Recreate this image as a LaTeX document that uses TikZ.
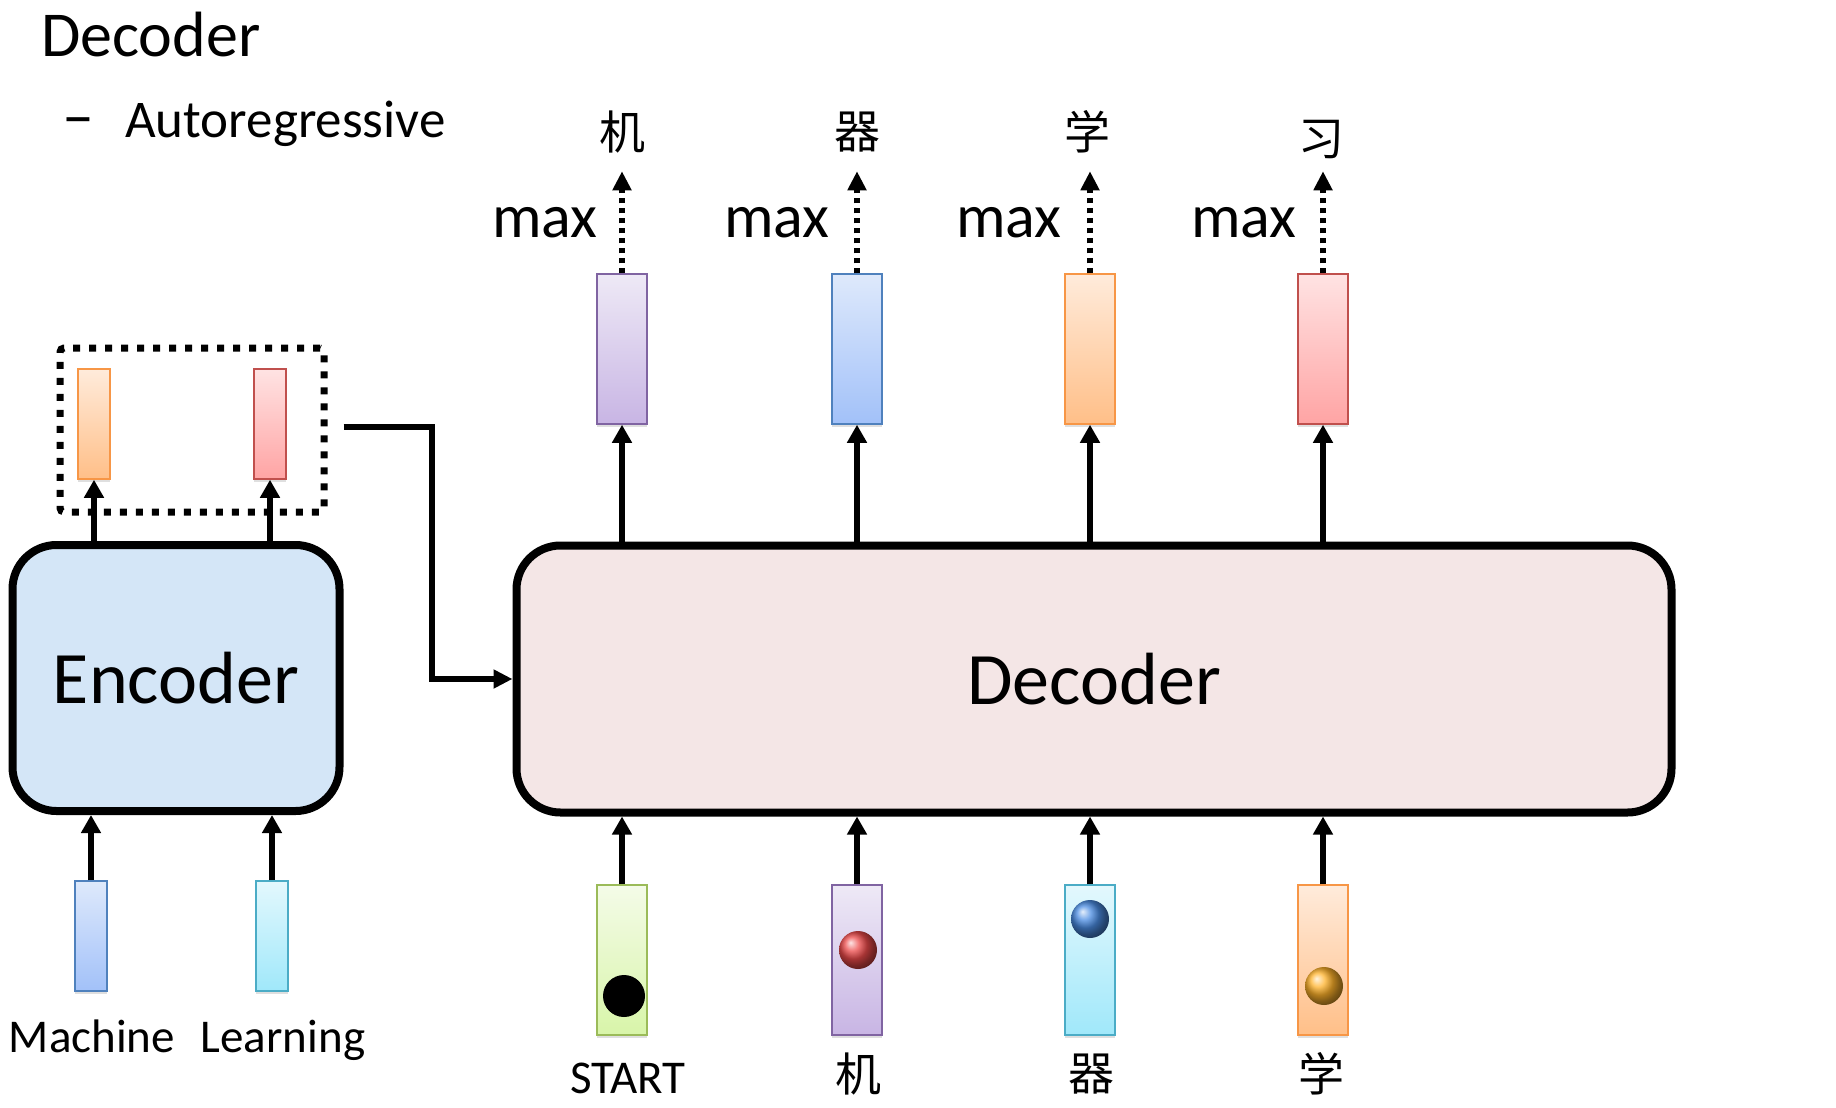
\documentclass[tikz,border=0pt]{standalone}
\usepackage{fontspec}
\setmainfont{Carlito}
\newfontfamily\cjkfont{Noto Sans CJK SC}
\usetikzlibrary{arrows.meta,positioning,calc,shadows}
\definecolor{encfill}{HTML}{D4E6F7}
\definecolor{decfill}{HTML}{F4E6E6}
\definecolor{purpleB}{HTML}{8064A2}\definecolor{purpleT}{HTML}{EEE9F6}\definecolor{purpleD}{HTML}{C8B5E4}
\definecolor{blueB}{HTML}{4F81BD}\definecolor{blueT}{HTML}{DEE9FB}\definecolor{blueD}{HTML}{A2C1F9}
\definecolor{orangeB}{HTML}{F79646}\definecolor{orangeT}{HTML}{FFEBDB}\definecolor{orangeD}{HTML}{FFBF88}
\definecolor{redB}{HTML}{C0504D}\definecolor{redT}{HTML}{FFE3E3}\definecolor{redD}{HTML}{FFA4A4}
\definecolor{greenB}{HTML}{9BBB59}\definecolor{greenT}{HTML}{F4FBE8}\definecolor{greenD}{HTML}{D8F5A9}
\definecolor{cyanB}{HTML}{4BACC6}\definecolor{cyanT}{HTML}{E3F8FD}\definecolor{cyanD}{HTML}{A0E8FA}
\definecolor{ballred}{HTML}{EC4A4A}
\definecolor{ballblue}{HTML}{4A8CE2}
\definecolor{ballorange}{HTML}{FFB22A}

\begin{document}
\begin{tikzpicture}[x=1pt,y=-1pt,
  vec/.style={draw=#1B,line width=1.5pt,top color=#1T,bottom color=#1D,minimum width=50pt,minimum height=150pt,inner sep=0pt,
    drop shadow={shadow xshift=0pt,shadow yshift=-3pt,opacity=0.25}},
  svec/.style={vec=#1,minimum width=32pt,minimum height=110pt},
  block/.style={draw,line width=8pt,rounded corners=44pt,inner sep=0pt,font=\fontsize{74}{80}\selectfont},
  dotbox/.style={draw,line width=7pt,dash pattern=on 7pt off 9pt,rounded corners=4pt},
  arr/.style={line width=6.5pt,-{Triangle[length=18pt,width=19pt]}},
  maxarr/.style={line width=6pt,dash pattern=on 5pt off 5pt,-{Triangle[length=19pt,width=18pt]}},
  link/.style={line width=6pt,-{Triangle[length=19pt,width=18pt]}},
  lbl/.style={inner sep=0pt,font=\fontsize{47}{52}\selectfont},
  maxlbl/.style={inner sep=0pt,font=\fontsize{62}{68}\selectfont},
  cjk/.style={inner sep=0pt,font=\cjkfont\fontsize{46}{50}\selectfont},
  ball/.style={circle,minimum size=38pt,inner sep=0pt}]
\useasboundingbox (0,0) rectangle (1836,1108);
% title
\node[anchor=base west,inner sep=0pt,font=\fontsize{64}{70}\selectfont] (title) at (41,57) {Decoder};
\node[anchor=base west,inner sep=0pt,font=\fontsize{64}{70}\selectfont] (dash) at (62,137) {–};
\node[anchor=base west,inner sep=0pt,font=\fontsize{53}{60}\selectfont] (sub) at (125,137) {Autoregressive};
% blocks
\node[block,fill=encfill,minimum width=327pt,minimum height=266pt] (enc) at (176,678) {Encoder};
\node[block,fill=decfill,minimum width=1155pt,minimum height=267pt] (dec) at (1094,679) {Decoder};
% encoder side
\node[svec=orange] (eo1) at (94,424) {};
\node[svec=red] (eo2) at (270,424) {};
\node[svec=blue] (ei1) at (91,936) {};
\node[svec=cyan] (ei2) at (272,936) {};
\node[dotbox,minimum width=264pt,minimum height=164pt] (mem) at (192,430) {};
\node[lbl,anchor=base] (w-mach) at (92,1052) {Machine};
\node[lbl,anchor=base] (w-learn) at (283,1052) {Learning};
\foreach \i in {1,2} {
  \draw[arr] (enc.north -| eo\i) -- (eo\i.south);
  \draw[arr] (ei\i.north) -- (ei\i.north |- enc.south);
}
\draw[link] ([xshift=16pt,yshift=3pt]mem.east) -- ++(88,0) |- (dec.west);
% decoder outputs
\node[vec=purple] (do1) at (622,349) {};
\node[vec=blue] (do2) at (857,349) {};
\node[vec=orange] (do3) at (1090,349) {};
\node[vec=red] (do4) at (1323,349) {};
% decoder inputs
\node[vec=green] (di1) at (622,960) {};
\node[vec=purple] (di2) at (857,960) {};
\node[vec=cyan] (di3) at (1090,960) {};
\node[vec=orange] (di4) at (1323,960) {};
\node[ball,fill=black,minimum size=42pt] (b1) at (624,996) {};
\node[ball,ball color=ballred] (b2) at (858,950) {};
\node[ball,ball color=ballblue] (b3) at (1090,919) {};
\node[ball,ball color=ballorange] (b4) at (1324,986) {};
\foreach \i in {1,...,4} {
  \draw[arr] (dec.north -| do\i) -- (do\i.south);
  \draw[arr] (di\i.north) -- (di\i.north |- dec.south);
  \draw[maxarr] (do\i.north) -- ([yshift=102pt]do\i.north);
}
\foreach \i/\x in {1/598,2/830,3/1062,4/1297} {\node[maxlbl,anchor=base east] (max\i) at (\x,237) {max};}
% words
\node[cjk] (o1) at (622,132) {机};
\node[cjk] (o2) at (857,132) {器};
\node[cjk] (o3) at (1087,132) {学};
\node[cjk] (o4) at (1321,140) {习};
\node[lbl,anchor=base] (start) at (628,1093) {START};
\node[cjk] (i2) at (858,1074) {机};
\node[cjk] (i3) at (1091,1074) {器};
\node[cjk] (i4) at (1321,1074) {学};
\end{tikzpicture}
\end{document}
